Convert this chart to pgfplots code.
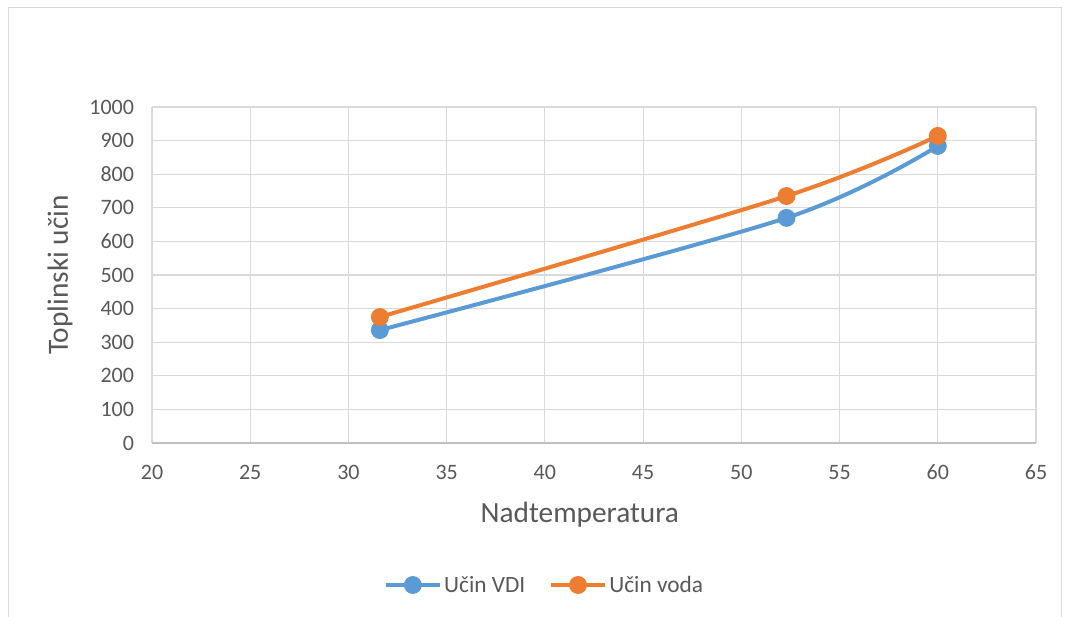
\documentclass[border=0pt]{standalone}
\usepackage{fontspec}
\setmainfont{Carlito}
\usepackage{pgfplots}
\pgfplotsset{compat=1.18}
\definecolor{txt}{HTML}{595959}
\definecolor{gridc}{HTML}{D9D9D9}
\definecolor{axc}{HTML}{BFBFBF}
\definecolor{cblue}{HTML}{5B9BD5}
\definecolor{corange}{HTML}{ED7D31}
\begin{document}
\begin{tikzpicture}[x=0.75pt,y=0.75pt]
\useasboundingbox (0,0) rectangle (1067,617);
\fill[white] (0,0) rectangle (1067,617);
\draw[gridc, line width=0.75pt] (8,-5) rectangle (1061,609);
\begin{axis}[
  at={(152*0.75pt,174*0.75pt)}, anchor=south west,
  scale only axis, width=663pt, height=252pt,
  xmin=20, xmax=65, ymin=0, ymax=1000,
  xtick={20,25,...,65}, ytick={0,100,...,1000},
  grid=major, major grid style={gridc, line width=0.9pt},
  axis x line*=bottom, axis y line*=left,
  x axis line style={axc, line width=0.9pt, -},
  y axis line style={draw=none},
  major tick length=0pt,
  ticklabel style={font=\fontsize{16.5}{18}\selectfont, text=txt},
  xticklabel style={yshift=-13pt},
  yticklabel style={xshift=-10pt},
  /pgf/number format/assume math mode=true,
  /pgf/number format/1000 sep={},
  xlabel={Nadtemperatura}, ylabel={Toplinski učin},
  label style={font=\fontsize{22}{24}\selectfont, text=txt},
  xlabel style={at={(0.484,-0.214)}, anchor=center},
  ylabel style={at={(-0.104,0.5)}, anchor=center, rotate=0},
  legend style={at={(0.4446,-0.4226)}, anchor=center, draw=none, fill=none,
    legend columns=2, font=\fontsize{17.5}{20}\selectfont, text=txt,
    /tikz/every even column/.append style={column sep=16pt}},
  legend image code/.code={
    \draw[#1, mark=none] (0pt,0pt) -- (40pt,0pt);
    \draw[#1, only marks] plot coordinates {(20pt,0pt)};
  },
]
\addplot[cblue, line width=3pt, smooth, mark=*, mark size=5.2pt, mark options={fill=cblue, draw=cblue}]
  coordinates {(31.6,336) (52.3,670) (60,884)};
\addlegendentry{Učin VDI}
\addplot[corange, line width=3pt, smooth, mark=*, mark size=5.2pt, mark options={fill=corange, draw=corange}]
  coordinates {(31.6,375) (52.3,735) (60,914)};
\addlegendentry{Učin voda}
\end{axis}
\end{tikzpicture}
\end{document}
